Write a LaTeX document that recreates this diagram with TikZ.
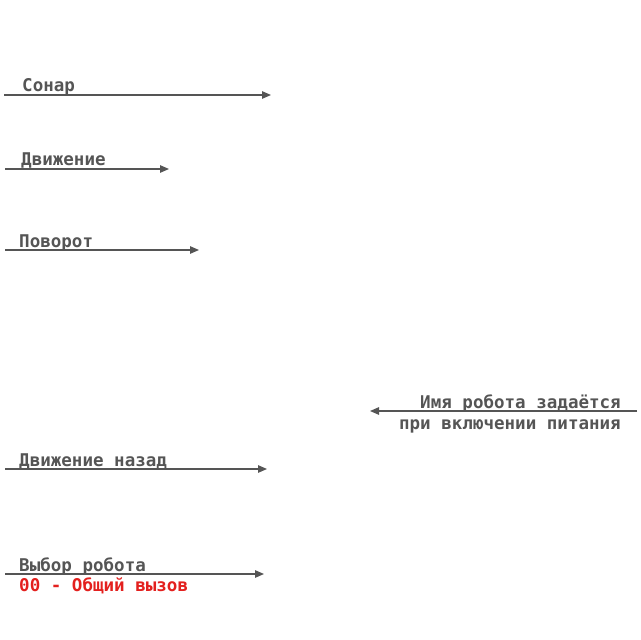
\documentclass[tikz,border=0pt]{standalone}
\usepackage{fontspec}
\setmonofont{DejaVu Sans Mono}
\usetikzlibrary{arrows.meta}
\definecolor{ink}{HTML}{555555}
\definecolor{redtxt}{HTML}{E3201E}
\tikzset{
  sig/.style={draw=ink, line width=1.2bp, -{Triangle[length=9bp,width=7.5bp]}},
  lbl/.style={inner sep=0pt, text=ink, font=\ttfamily\bfseries\fontsize{17.6}{20}\selectfont},
  redlbl/.style={lbl, text=redtxt}
}
\begin{document}
\begin{tikzpicture}[x=1bp,y=-1bp]
\useasboundingbox (0,0) rectangle (640,640);
% Sonar
\coordinate (s1) at (4,95);
\coordinate (e1) at (271,95);
\draw[sig] (s1) -- (e1);
\node[lbl, anchor=base west] (l1) at (22,92) {Сонар};
% Movement
\coordinate (s2) at (5,169);
\coordinate (e2) at (169,169);
\draw[sig] (s2) -- (e2);
\node[lbl, anchor=base west] (l2) at (21,166) {Движение};
% Turn
\coordinate (s3) at (5,250);
\coordinate (e3) at (199,250);
\draw[sig] (s3) -- (e3);
\node[lbl, anchor=base west] (l3) at (19,247) {Поворот};
% Robot name
\coordinate (s4) at (637,411);
\coordinate (e4) at (370,411);
\draw[sig] (s4) -- (e4);
\node[lbl, anchor=base east] (l4a) at (621,408) {Имя робота задаётся};
\node[lbl, anchor=base east] (l4b) at (621,429) {при включении питания};
% Backward
\coordinate (s5) at (5,469);
\coordinate (e5) at (267,469);
\draw[sig] (s5) -- (e5);
\node[lbl, anchor=base west] (l5) at (19,466) {Движение назад};
% Robot select
\coordinate (s6) at (5,574);
\coordinate (e6) at (264,574);
\draw[sig] (s6) -- (e6);
\node[lbl, anchor=base west] (l6) at (19,571) {Выбор робота};
\node[redlbl, anchor=base west] (l6b) at (19,591) {00 - Общий вызов};
\end{tikzpicture}
\end{document}
